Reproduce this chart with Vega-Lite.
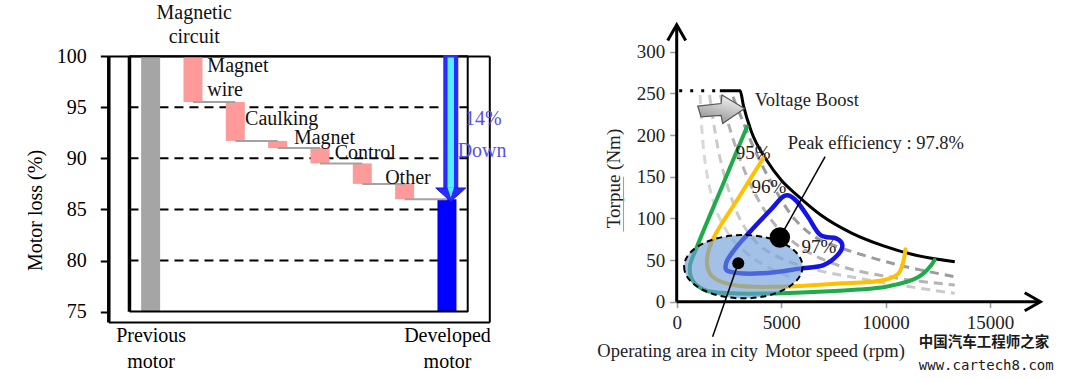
{
  "$schema": "https://vega.github.io/schema/vega-lite/v6.json",
  "autosize": {"type": "none"},
  "width": 1080,
  "height": 381,
  "padding": 0,
  "background": "white",
  "config": {
    "font": "Liberation Serif",
    "view": {"stroke": null},
    "axis": {"labelFont": "Liberation Serif", "titleFont": "Liberation Serif", "labelColor": "#000", "titleColor": "#000", "titleFontWeight": "normal", "labelFlush": false, "labelOverlap": false}
  },
  "resolve": {
    "scale": {"x": "independent", "y": "independent", "color": "independent", "size": "independent"},
    "axis": {"x": "independent", "y": "independent"}
  },
  "datasets": {
    "grid": [{"y": 80, "x": 0.5, "x2": 8.5}, {"y": 85, "x": 0.5, "x2": 8.5}, {"y": 90, "x": 0.5, "x2": 8.5}, {"y": 95, "x": 0.5, "x2": 8.5}],
    "laxis": [{"x": 0.5, "y": 75, "y2": 100}],
    "hf2": [{"y": 99.98, "x": 0.5, "x2": 8.5}, {"y": 75.02, "x": 0.5, "x2": 8.5}],
    "vf2": [{"x": 8.49, "y": 75, "y2": 100}],
    "corner": [{"x": 8.5, "y": 100}],
    "bars": [
      {"i": 1, "top": 100, "bot": 75, "k": "prev"},
      {"i": 2, "top": 100, "bot": 95.5, "k": "step"},
      {"i": 3, "top": 95.5, "bot": 91.7, "k": "step"},
      {"i": 4, "top": 91.7, "bot": 91.0, "k": "step"},
      {"i": 5, "top": 91.0, "bot": 89.5, "k": "step"},
      {"i": 6, "top": 89.5, "bot": 87.5, "k": "step"},
      {"i": 7, "top": 87.5, "bot": 86.0, "k": "step"},
      {"i": 8, "top": 86.0, "bot": 75, "k": "dev"}
    ],
    "conn": [
      {"f": 2, "t": 3, "y": 95.5},
      {"f": 3, "t": 4, "y": 91.7},
      {"f": 4, "t": 5, "y": 91.0},
      {"f": 5, "t": 6, "y": 89.5},
      {"f": 6, "t": 7, "y": 87.5},
      {"f": 7, "t": 8, "y": 86.0}
    ],
    "arrow14": [{"x": 8.09, "top": 100.1, "itop": 99.85, "base": 87.1}],
    "ltext_left": [
      {"t": "Magnet\nwire", "x": 2.34, "y": 98.99},
      {"t": "Caulking", "x": 3.23, "y": 93.83},
      {"t": "Magnet", "x": 4.385, "y": 91.95},
      {"t": "Control", "x": 5.35, "y": 90.48},
      {"t": "Other", "x": 6.54, "y": 88.04}
    ],
    "ltext_center": [{"t": "Magnetic\ncircuit", "x": 2.03, "y": 104.16}],
    "ltext_blue": [
      {"t": "14%", "x": 8.86, "y": 93.83},
      {"t": "Down", "x": 8.83, "y": 90.7}
    ],
    "curves": [
      {"c": "d1", "i": 1, "x": 2693, "y": 246}, {"c": "d1", "i": 2, "x": 3142, "y": 218}, {"c": "d1", "i": 3, "x": 3740, "y": 182}, {"c": "d1", "i": 4, "x": 4638, "y": 138}, {"c": "d1", "i": 5, "x": 5685, "y": 98}, {"c": "d1", "i": 6, "x": 6732, "y": 76}, {"c": "d1", "i": 7, "x": 7929, "y": 64}, {"c": "d1", "i": 8, "x": 10622, "y": 44}, {"c": "d1", "i": 9, "x": 13314, "y": 30},
      {"c": "d2", "i": 1, "x": 2094, "y": 248}, {"c": "d2", "i": 2, "x": 2468, "y": 214}, {"c": "d2", "i": 3, "x": 2992, "y": 174}, {"c": "d2", "i": 4, "x": 3740, "y": 130}, {"c": "d2", "i": 5, "x": 4787, "y": 90}, {"c": "d2", "i": 6, "x": 6134, "y": 62}, {"c": "d2", "i": 7, "x": 7929, "y": 42}, {"c": "d2", "i": 8, "x": 10622, "y": 28}, {"c": "d2", "i": 9, "x": 13314, "y": 20},
      {"c": "d3", "i": 1, "x": 1571, "y": 248}, {"c": "d3", "i": 2, "x": 1795, "y": 210}, {"c": "d3", "i": 3, "x": 2094, "y": 170}, {"c": "d3", "i": 4, "x": 2543, "y": 130}, {"c": "d3", "i": 5, "x": 3142, "y": 94}, {"c": "d3", "i": 6, "x": 4039, "y": 66}, {"c": "d3", "i": 7, "x": 5834, "y": 44}, {"c": "d3", "i": 8, "x": 9425, "y": 25}, {"c": "d3", "i": 9, "x": 13314, "y": 10},
      {"c": "d4", "i": 1, "x": 1122, "y": 248}, {"c": "d4", "i": 2, "x": 1197, "y": 210}, {"c": "d4", "i": 3, "x": 1346, "y": 170}, {"c": "d4", "i": 4, "x": 1646, "y": 130}, {"c": "d4", "i": 5, "x": 2094, "y": 98}, {"c": "d4", "i": 6, "x": 2842, "y": 70}, {"c": "d4", "i": 7, "x": 4039, "y": 46}, {"c": "d4", "i": 8, "x": 5386, "y": 30},
      {"c": "old", "i": 1, "x": 120, "y": 253}, {"c": "old", "i": 2, "x": 2065, "y": 253},
      {"c": "env", "i": 1, "x": 2065, "y": 253}, {"c": "env", "i": 2, "x": 3037, "y": 253}, {"c": "env", "i": 3, "x": 3190, "y": 236}, {"c": "env", "i": 4, "x": 3560, "y": 205}, {"c": "env", "i": 5, "x": 4300, "y": 170}, {"c": "env", "i": 6, "x": 5000, "y": 146}, {"c": "env", "i": 7, "x": 5800, "y": 127}, {"c": "env", "i": 8, "x": 6900, "y": 104}, {"c": "env", "i": 9, "x": 8400, "y": 82}, {"c": "env", "i": 10, "x": 9900, "y": 67}, {"c": "env", "i": 11, "x": 11400, "y": 56}, {"c": "env", "i": 12, "x": 13314, "y": 48},
      {"c": "g95", "i": 1, "x": 3366, "y": 210}, {"c": "g95", "i": 2, "x": 2169, "y": 138}, {"c": "g95", "i": 3, "x": 972, "y": 66}, {"c": "g95", "i": 4, "x": 628, "y": 42}, {"c": "g95", "i": 5, "x": 748, "y": 26}, {"c": "g95", "i": 6, "x": 1346, "y": 14}, {"c": "g95", "i": 7, "x": 2693, "y": 10}, {"c": "g95", "i": 8, "x": 5685, "y": 10.8}, {"c": "g95", "i": 9, "x": 8677, "y": 14.5}, {"c": "g95", "i": 10, "x": 10023, "y": 18}, {"c": "g95", "i": 11, "x": 11370, "y": 27}, {"c": "g95", "i": 12, "x": 11819, "y": 34}, {"c": "g95", "i": 13, "x": 12192, "y": 44}, {"c": "g95", "i": 14, "x": 12342, "y": 50},
      {"c": "g96", "i": 1, "x": 4189, "y": 174}, {"c": "g96", "i": 2, "x": 2992, "y": 126}, {"c": "g96", "i": 3, "x": 1795, "y": 78}, {"c": "g96", "i": 4, "x": 1496, "y": 58}, {"c": "g96", "i": 5, "x": 1466, "y": 42}, {"c": "g96", "i": 6, "x": 1720, "y": 30}, {"c": "g96", "i": 7, "x": 2693, "y": 20}, {"c": "g96", "i": 8, "x": 4937, "y": 18}, {"c": "g96", "i": 9, "x": 7929, "y": 22}, {"c": "g96", "i": 10, "x": 9934, "y": 26}, {"c": "g96", "i": 11, "x": 10622, "y": 34}, {"c": "g96", "i": 12, "x": 10846, "y": 48}, {"c": "g96", "i": 13, "x": 10951, "y": 63},
      {"c": "b97", "i": 1, "x": 5161, "y": 127}, {"c": "b97", "i": 2, "x": 5685, "y": 122}, {"c": "b97", "i": 3, "x": 6283, "y": 102}, {"c": "b97", "i": 4, "x": 6882, "y": 80}, {"c": "b97", "i": 5, "x": 7630, "y": 76}, {"c": "b97", "i": 6, "x": 7929, "y": 68}, {"c": "b97", "i": 7, "x": 7704, "y": 56}, {"c": "b97", "i": 8, "x": 7031, "y": 44}, {"c": "b97", "i": 9, "x": 5984, "y": 40}, {"c": "b97", "i": 10, "x": 4039, "y": 34}, {"c": "b97", "i": 11, "x": 2543, "y": 36}, {"c": "b97", "i": 12, "x": 2364, "y": 46}, {"c": "b97", "i": 13, "x": 2693, "y": 60}, {"c": "b97", "i": 14, "x": 3441, "y": 82}, {"c": "b97", "i": 15, "x": 4488, "y": 110}
    ],
    "ellipse": [{"x": 3190, "y": 42}],
    "ptr": [
      {"x": 4937, "y": 77, "x2": 7106, "y2": 174},
      {"x": 2947, "y": 46, "x2": 1720, "y2": -42}
    ],
    "dots": [
      {"x": 4937, "y": 77, "k": "big"},
      {"x": 2947, "y": 46, "k": "small"}
    ],
    "boost": [{"x": 2123, "y": 231}],
    "rtext_left": [
      {"t": "Voltage Boost", "x": 3740, "y": 242},
      {"t": "Peak efficiency : 97.8%", "x": 5311, "y": 190},
      {"t": "Operating area in city", "x": -3800, "y": -59},
      {"t": "Motor speed (rpm)", "x": 4230, "y": -59}
    ],
    "rtext_center": [
      {"t": "95%", "x": 3665, "y": 178},
      {"t": "96%", "x": 4413, "y": 138},
      {"t": "97%", "x": 6807, "y": 66}
    ],
    "wm_cn": [{"t": "中国汽车工程师之家", "x": 11592, "y": -50}],
    "wm_en": [{"t": "www.cartech8.com", "x": 11592, "y": -77}],
    "yaxis_r": [{"x": 0, "y": 0, "y2": 331}],
    "xaxis_r": [{"y": 0, "x": 0, "x2": 17380}],
    "ytip": [{"x": 0, "y": 332.4}],
    "xtip": [{"x": 17415, "y": 0}],
    "squiggle": [{"x": -2545, "y": 84, "y2": 150}]
  },
  "layer": [
    {
      "layer": [
        {
          "data": {"name": "grid"},
          "mark": {"type": "rule", "color": "#000", "strokeWidth": 2, "strokeDash": [9, 6]},
          "encoding": {
            "x": {"field": "x", "type": "quantitative", "scale": {"domain": [0.5, 8.5], "range": [108.3, 489.3], "padding": 0},
              "axis": {"orient": "bottom", "offset": -59, "values": [1, 8], "labelExpr": "datum.value == 1 ? ['Previous', 'motor'] : ['Developed', 'motor']", "title": null, "grid": false, "domain": true, "domainColor": "#000", "domainWidth": 2, "ticks": false, "labelFontSize": 20, "labelPadding": 3, "labelLineHeight": 26}},
            "x2": {"field": "x2"},
            "y": {"field": "y", "type": "quantitative", "scale": {"domain": [75, 100], "range": [322, 56]},
              "axis": {"orient": "left", "offset": -108.3, "values": [75, 80, 85, 90, 95, 100], "title": "Motor loss (%)", "titleFontSize": 20, "titlePadding": 11, "titleY": 210, "labelFontSize": 20, "labelPadding": 14, "tickSize": 8, "tickWidth": 2, "tickColor": "#000", "domain": true, "domainColor": "#000", "domainWidth": 3.5, "grid": false}}
          }
        },
        {
          "data": {"name": "bars"},
          "mark": {"type": "bar", "width": 19},
          "encoding": {
            "x": {"field": "i", "type": "quantitative"},
            "y": {"field": "top", "type": "quantitative"},
            "y2": {"field": "bot"},
            "color": {"field": "k", "type": "nominal", "scale": {"domain": ["prev", "step", "dev"], "range": ["#a5a5a5", "#ff9a9a", "#0000ff"]}, "legend": null}
          }
        },
        {
          "data": {"name": "conn"},
          "mark": {"type": "rule", "color": "#a3a3a3", "strokeWidth": 2},
          "encoding": {"x": {"field": "f", "type": "quantitative"}, "x2": {"field": "t"}, "y": {"field": "y", "type": "quantitative"}}
        },
        {
          "data": {"name": "laxis"},
          "mark": {"type": "rule", "color": "#000", "strokeWidth": 3.5},
          "encoding": {"x": {"field": "x", "type": "quantitative"}, "y": {"field": "y", "type": "quantitative"}, "y2": {"field": "y2"}}
        },
        {
          "data": {"name": "vf2"},
          "mark": {"type": "rule", "color": "#000", "strokeWidth": 2},
          "encoding": {"x": {"field": "x", "type": "quantitative"}, "y": {"field": "y", "type": "quantitative"}, "y2": {"field": "y2"}}
        },
        {
          "data": {"name": "hf2"},
          "mark": {"type": "rule", "color": "#000", "strokeWidth": 2},
          "encoding": {"x": {"field": "x", "type": "quantitative"}, "x2": {"field": "x2"}, "y": {"field": "y", "type": "quantitative"}}
        },
        {
          "data": {"name": "arrow14"},
          "mark": {"type": "rule", "color": "#2a2aff", "strokeWidth": 15},
          "encoding": {"x": {"field": "x", "type": "quantitative"}, "y": {"field": "top", "type": "quantitative"}, "y2": {"field": "base"}}
        },
        {
          "data": {"name": "arrow14"},
          "mark": {"type": "rule", "color": "#55eeff", "strokeWidth": 6.5},
          "encoding": {"x": {"field": "x", "type": "quantitative"}, "y": {"field": "itop", "type": "quantitative"}, "y2": {"field": "base"}}
        },
        {
          "data": {"name": "arrow14"},
          "mark": {"type": "point", "shape": "M -1 0 L 1 0 L 0 0.9 Z", "size": 900, "filled": true, "fill": "#2a2aff", "stroke": "#1a1ae0", "strokeWidth": 1, "opacity": 1},
          "encoding": {"x": {"field": "x", "type": "quantitative"}, "y": {"field": "base", "type": "quantitative"}}
        },
        {
          "data": {"name": "arrow14"},
          "mark": {"type": "point", "shape": "M -0.22 -0.05 L 0.22 -0.05 L 0 0.65 Z", "size": 900, "filled": true, "fill": "#55eeff", "strokeWidth": 0, "opacity": 1},
          "encoding": {"x": {"field": "x", "type": "quantitative"}, "y": {"field": "base", "type": "quantitative"}}
        },
        {
          "data": {"name": "ltext_left"},
          "mark": {"type": "text", "align": "left", "baseline": "middle", "fontSize": 20, "lineBreak": "\n", "lineHeight": 24, "color": "#111"},
          "encoding": {"x": {"field": "x", "type": "quantitative"}, "y": {"field": "y", "type": "quantitative"}, "text": {"field": "t"}}
        },
        {
          "data": {"name": "ltext_center"},
          "mark": {"type": "text", "align": "center", "baseline": "middle", "fontSize": 20, "lineBreak": "\n", "lineHeight": 24, "color": "#111"},
          "encoding": {"x": {"field": "x", "type": "quantitative"}, "y": {"field": "y", "type": "quantitative"}, "text": {"field": "t"}}
        },
        {
          "data": {"name": "ltext_blue"},
          "mark": {"type": "text", "align": "center", "baseline": "middle", "fontSize": 20, "color": "#5a50e8"},
          "encoding": {"x": {"field": "x", "type": "quantitative"}, "y": {"field": "y", "type": "quantitative"}, "text": {"field": "t"}}
        }
      ]
    },
    {
      "layer": [
        {
          "data": {"name": "corner"},
          "mark": {"type": "point", "opacity": 0, "size": 1},
          "encoding": {
            "x": {"field": "x", "type": "quantitative", "scale": {"domain": [0.5, 8.5], "range": [108.3, 489.3], "padding": 0},
              "axis": {"orient": "top", "offset": -56, "domain": true, "domainColor": "#000", "domainWidth": 2, "ticks": false, "labels": false, "title": null, "grid": false}},
            "y": {"field": "y", "type": "quantitative", "scale": {"domain": [75, 100], "range": [322, 56]},
              "axis": {"orient": "right", "offset": -590.7, "domain": true, "domainColor": "#000", "domainWidth": 2, "ticks": false, "labels": false, "title": null, "grid": false}}
          }
        }
      ]
    },
    {
      "layer": [
        {
          "data": {"name": "curves"},
          "transform": [{"filter": "indexof(['d1','d2','d3','d4'], datum.c) >= 0"}],
          "mark": {"type": "line", "strokeDash": [9, 6], "strokeWidth": 3, "interpolate": "catmull-rom"},
          "encoding": {
            "x": {"field": "x", "type": "quantitative", "scale": {"domain": [0, 15000], "range": [676.7, 1010.9]},
              "axis": {"orient": "bottom", "offset": -79.3, "values": [0, 5000, 10000, 15000], "format": "d", "title": null, "grid": false, "domain": false, "tickSize": 6, "tickColor": "#999", "tickWidth": 1.5, "labelFontSize": 19, "labelPadding": 6, "labelColor": "#222"}},
            "y": {"field": "y", "type": "quantitative", "scale": {"domain": [0, 300], "range": [301.7, 51.7]},
              "axis": {"orient": "left", "offset": -676.7, "values": [0, 50, 100, 150, 200, 250, 300], "title": "Torpue (Nm)", "titleFontSize": 19, "titlePadding": 13, "titleY": 178, "titleColor": "#222", "grid": false, "domain": false, "tickSize": 7, "tickColor": "#999", "tickWidth": 1.5, "labelFontSize": 19, "labelPadding": 5, "labelColor": "#222"}},
            "order": {"field": "i"},
            "color": {"field": "c", "type": "nominal", "scale": {"domain": ["d1", "d2", "d3", "d4"], "range": ["#9c9c9c", "#b4b4b4", "#cacaca", "#d8d8d8"]}, "legend": null}
          }
        },
        {
          "data": {"name": "curves"},
          "transform": [{"filter": "datum.c == 'old'"}],
          "mark": {"type": "line", "color": "#000", "strokeDash": [3, 8], "strokeWidth": 3},
          "encoding": {"x": {"field": "x", "type": "quantitative"}, "y": {"field": "y", "type": "quantitative"}, "order": {"field": "i"}}
        },
        {
          "data": {"name": "curves"},
          "transform": [{"filter": "datum.c == 'env'"}],
          "mark": {"type": "line", "color": "#000", "strokeWidth": 3, "interpolate": "monotone"},
          "encoding": {"x": {"field": "x", "type": "quantitative"}, "y": {"field": "y", "type": "quantitative"}, "order": {"field": "i"}}
        },
        {
          "data": {"name": "curves"},
          "transform": [{"filter": "datum.c == 'g95'"}],
          "mark": {"type": "line", "color": "#1faa4c", "strokeWidth": 4, "interpolate": "catmull-rom", "strokeCap": "round"},
          "encoding": {"x": {"field": "x", "type": "quantitative"}, "y": {"field": "y", "type": "quantitative"}, "order": {"field": "i"}}
        },
        {
          "data": {"name": "curves"},
          "transform": [{"filter": "datum.c == 'g96'"}],
          "mark": {"type": "line", "color": "#ffc000", "strokeWidth": 4, "interpolate": "catmull-rom", "strokeCap": "round"},
          "encoding": {"x": {"field": "x", "type": "quantitative"}, "y": {"field": "y", "type": "quantitative"}, "order": {"field": "i"}}
        },
        {
          "data": {"name": "curves"},
          "transform": [{"filter": "datum.c == 'b97'"}],
          "mark": {"type": "line", "color": "#1414e6", "strokeWidth": 4.5, "interpolate": "cardinal-closed"},
          "encoding": {"x": {"field": "x", "type": "quantitative"}, "y": {"field": "y", "type": "quantitative"}, "order": {"field": "i"}}
        },
        {
          "data": {"name": "ellipse"},
          "mark": {"type": "point", "shape": "M -1 0 A 1 0.535 0 1 0 1 0 A 1 0.535 0 1 0 -1 0 Z", "size": 14018, "filled": true, "fill": "#6a9ad8", "fillOpacity": 0.62, "stroke": "#000", "strokeOpacity": 1, "strokeWidth": 2, "strokeDash": [6, 4], "opacity": 1},
          "encoding": {"x": {"field": "x", "type": "quantitative"}, "y": {"field": "y", "type": "quantitative"}}
        },
        {
          "data": {"name": "ptr"},
          "mark": {"type": "rule", "color": "#000", "strokeWidth": 1.5},
          "encoding": {"x": {"field": "x", "type": "quantitative"}, "x2": {"field": "x2"}, "y": {"field": "y", "type": "quantitative"}, "y2": {"field": "y2"}}
        },
        {
          "data": {"name": "dots"},
          "mark": {"type": "circle", "color": "#000", "opacity": 1},
          "encoding": {"x": {"field": "x", "type": "quantitative"}, "y": {"field": "y", "type": "quantitative"},
            "size": {"field": "k", "type": "nominal", "scale": {"domain": ["big", "small"], "range": [420, 144]}, "legend": null}}
        },
        {
          "data": {"name": "boost"},
          "mark": {"type": "point", "shape": "M -0.99 -0.13 L 0 -0.24 L 0.04 -0.6 L 1 -0.03 L 0.07 0.61 L 0 0.26 L -0.85 0.33 Z", "size": 2209, "filled": true, "opacity": 1,
            "fill": {"gradient": "linear", "x1": 0.2, "y1": 1, "x2": 0.6, "y2": 0, "stops": [{"offset": 0, "color": "#8c8c8c"}, {"offset": 1, "color": "#f2f2f2"}]},
            "stroke": "#555", "strokeWidth": 1.2},
          "encoding": {"x": {"field": "x", "type": "quantitative"}, "y": {"field": "y", "type": "quantitative"}}
        },
        {
          "data": {"name": "yaxis_r"},
          "mark": {"type": "rule", "color": "#000", "strokeWidth": 3},
          "encoding": {"x": {"field": "x", "type": "quantitative"}, "y": {"field": "y", "type": "quantitative"}, "y2": {"field": "y2"}}
        },
        {
          "data": {"name": "xaxis_r"},
          "mark": {"type": "rule", "color": "#000", "strokeWidth": 3},
          "encoding": {"x": {"field": "x", "type": "quantitative"}, "x2": {"field": "x2"}, "y": {"field": "y", "type": "quantitative"}}
        },
        {
          "data": {"name": "ytip"},
          "mark": {"type": "point", "shape": "M -1 1.75 L 0 0 L 1 1.75", "size": 324, "filled": false, "stroke": "#000", "strokeWidth": 3, "opacity": 1},
          "encoding": {"x": {"field": "x", "type": "quantitative"}, "y": {"field": "y", "type": "quantitative"}}
        },
        {
          "data": {"name": "xtip"},
          "mark": {"type": "point", "shape": "M -1.75 -1 L 0 0 L -1.75 1", "size": 324, "filled": false, "stroke": "#000", "strokeWidth": 3, "opacity": 1},
          "encoding": {"x": {"field": "x", "type": "quantitative"}, "y": {"field": "y", "type": "quantitative"}}
        },
        {
          "data": {"name": "squiggle"},
          "mark": {"type": "rule", "color": "#e87a8a", "strokeWidth": 1},
          "encoding": {"x": {"field": "x", "type": "quantitative"}, "y": {"field": "y", "type": "quantitative"}, "y2": {"field": "y2"}}
        },
        {
          "data": {"name": "rtext_left"},
          "mark": {"type": "text", "align": "left", "baseline": "middle", "fontSize": 18.5, "color": "#222"},
          "encoding": {"x": {"field": "x", "type": "quantitative"}, "y": {"field": "y", "type": "quantitative"}, "text": {"field": "t"}}
        },
        {
          "data": {"name": "rtext_center"},
          "mark": {"type": "text", "align": "center", "baseline": "middle", "fontSize": 19, "color": "#222"},
          "encoding": {"x": {"field": "x", "type": "quantitative"}, "y": {"field": "y", "type": "quantitative"}, "text": {"field": "t"}}
        },
        {
          "data": {"name": "wm_cn"},
          "mark": {"type": "text", "align": "left", "baseline": "middle", "fontSize": 14.5, "font": "Noto Sans CJK SC", "fontWeight": "bold", "color": "#1a1a1a"},
          "encoding": {"x": {"field": "x", "type": "quantitative"}, "y": {"field": "y", "type": "quantitative"}, "text": {"field": "t"}}
        },
        {
          "data": {"name": "wm_en"},
          "mark": {"type": "text", "align": "left", "baseline": "middle", "fontSize": 14, "font": "DejaVu Sans Mono", "color": "#1a1a1a"},
          "encoding": {"x": {"field": "x", "type": "quantitative"}, "y": {"field": "y", "type": "quantitative"}, "text": {"field": "t"}}
        }
      ]
    }
  ]
}
